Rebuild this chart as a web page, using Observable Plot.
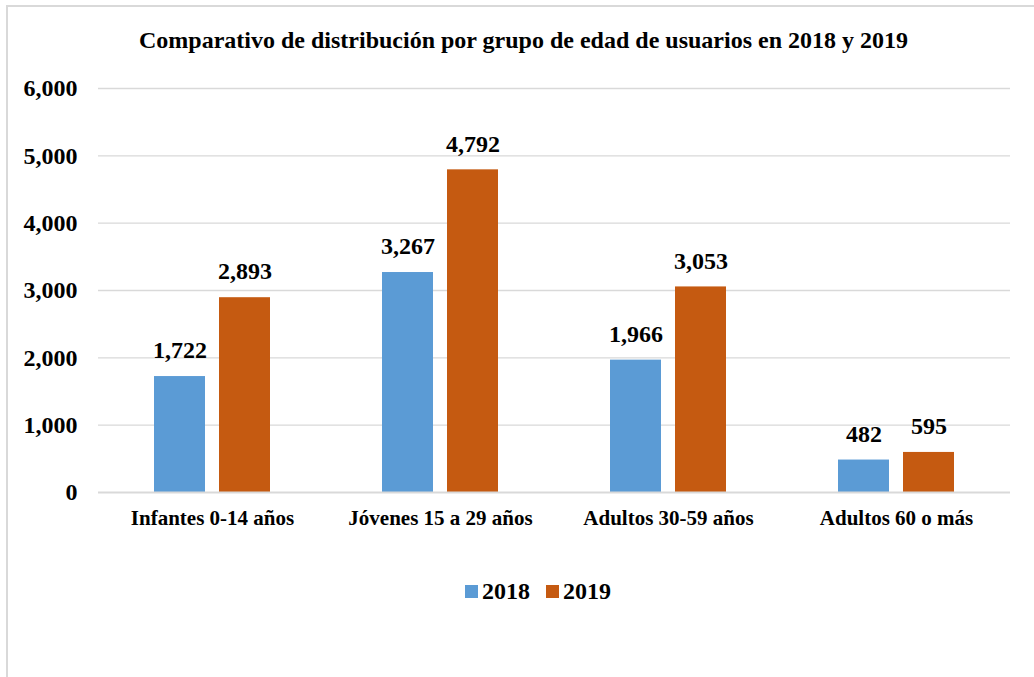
<!DOCTYPE html>
<html><head><meta charset="utf-8">
<script src="https://cdn.jsdelivr.net/npm/d3@7"></script>
<script src="https://cdn.jsdelivr.net/npm/@observablehq/plot@0.6"></script>
<style>
html,body{margin:0;padding:0;background:#fff;overflow:hidden;width:1034px;height:677px}
body{font-family:"Liberation Serif","Tinos","Times New Roman",Times,"DejaVu Serif","Noto Serif",serif;font-weight:bold;color:#000;position:relative}
#frame{position:absolute;left:6px;top:5px;width:1040px;height:700px;border:2px solid #d9d9d9;box-sizing:border-box}
#title{position:absolute;top:28px;left:0;width:1047px;text-align:center;font-size:24px;line-height:24px;white-space:nowrap}
#chart{position:absolute;left:0;top:60px}
#legend{position:absolute;top:579px;left:0;width:1076px;display:flex;justify-content:center;align-items:center;font-size:24px;line-height:24px}
.item{display:flex;align-items:center;margin:0 8px}
.sw{width:13px;height:13px;margin-right:4px}
</style></head>
<body>
<div id="frame"></div>
<div id="title"></div>
<div id="chart"></div>
<div id="legend"></div>
<script>
const titleText = "Comparativo de distribución por grupo de edad de usuarios en 2018 y 2019";
const categories = ["Infantes 0-14 años", "Jóvenes 15 a 29 años", "Adultos 30-59 años", "Adultos 60 o más"];
const years = ["2018", "2019"];
const values2018 = [1722, 3267, 1966, 482];
const values2019 = [2893, 4792, 3053, 595];
const yTicks = [0, 1000, 2000, 3000, 4000, 5000, 6000];
const colors = ["#5B9BD5", "#C55A11"];

const serif = "'Liberation Serif', 'Tinos', 'Times New Roman', Times, 'DejaVu Serif', 'Noto Serif', serif";
const fmt = d3.format(",");
const data = categories.flatMap((c, i) => [
  {cat: c, year: years[0], value: values2018[i]},
  {cat: c, year: years[1], value: values2019[i]}
]);

document.getElementById("title").textContent = titleText;

const chart = Plot.plot({
  width: 1034,
  height: 480,
  marginTop: 28,
  marginBottom: 48,
  marginLeft: 98,
  marginRight: 24,
  style: {fontFamily: serif, fontWeight: "bold", fontSize: "24px", color: "#000", background: "transparent", overflow: "visible"},
  fx: {domain: categories, paddingInner: 0, paddingOuter: 0, label: null},
  x: {domain: years, paddingInner: 0.215, paddingOuter: 0.861, axis: null},
  y: {domain: [0, 6000], label: null},
  color: {domain: years, range: colors},
  marks: [
    Plot.ruleY(yTicks.slice(1), {stroke: "#d9d9d9", strokeWidth: 1.3}),
    Plot.axisY({ticks: yTicks, tickSize: 0, tickPadding: 21, tickFormat: fmt, label: null, fontSize: 24, fontWeight: "bold"}),
    Plot.axisFx({anchor: "bottom", tickSize: 0, tickPadding: 18, label: null, fontSize: 21, fontWeight: "bold"}),
    Plot.barY(data, {fx: "cat", x: "year", y: "value", fill: "year"}),
    Plot.ruleY([0], {stroke: "#d9d9d9", strokeWidth: 2}),
    Plot.text(data, {fx: "cat", x: "year", y: "value", text: d => fmt(d.value), dy: -26, fontSize: 24, fontWeight: "bold", fill: "#000"})
  ]
});
document.getElementById("chart").appendChild(chart);

const legend = document.getElementById("legend");
years.forEach((y, i) => {
  const item = document.createElement("div");
  item.className = "item";
  const sw = document.createElement("span");
  sw.className = "sw";
  sw.style.background = colors[i];
  const t = document.createElement("span");
  t.textContent = y;
  item.appendChild(sw);
  item.appendChild(t);
  legend.appendChild(item);
});
</script>
</body></html>
